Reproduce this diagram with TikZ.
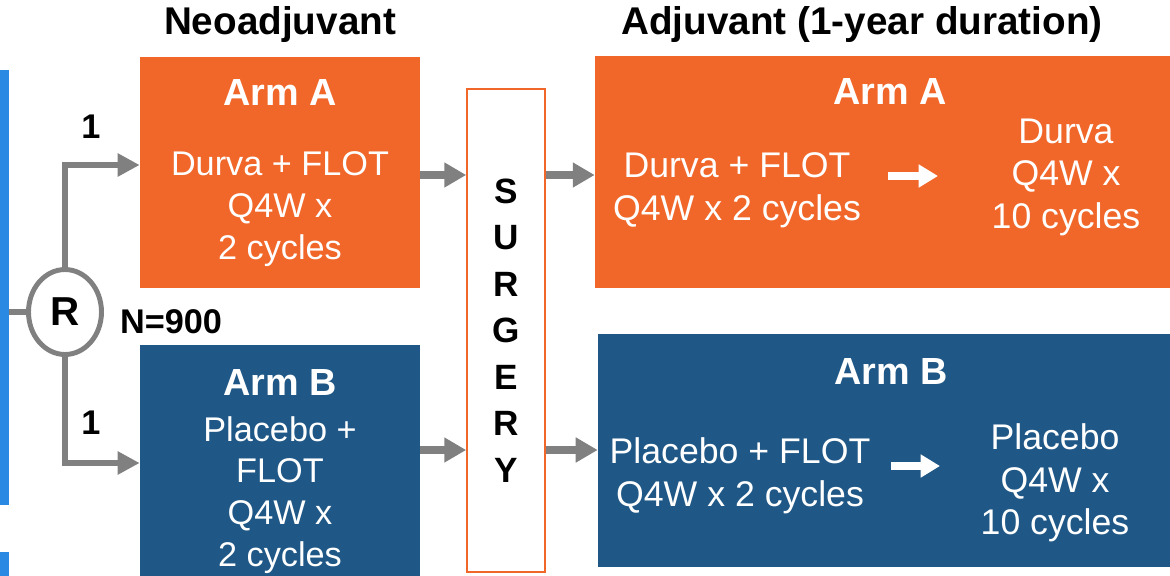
\documentclass[tikz,border=0pt]{standalone}
\usepackage{fontspec}
\setmainfont{Liberation Sans}
\usetikzlibrary{arrows.meta,shapes.geometric}
\definecolor{armorange}{RGB}{241,102,41}
\definecolor{armblue}{RGB}{31,87,134}
\definecolor{barblue}{RGB}{42,137,226}
\definecolor{linkgray}{RGB}{128,128,128}

\begin{document}
\begin{tikzpicture}[x=0.02cm, y=-0.02cm,
	title/.style={font=\bfseries\fontsize{22}{26}\selectfont},
	armtitle/.style={text=white, font=\bfseries\fontsize{21.5}{26}\selectfont},
	armtext/.style={text=white, align=center, font=\fontsize{19.5}{23.8}\selectfont},
	adjtext/.style={text=white, align=center, font=\fontsize{20.3}{24.2}\selectfont},
	marker/.style={font=\bfseries\fontsize{19.5}{23}\selectfont},
	link/.style={draw=linkgray, line width=3.4pt, -{Triangle[length=12.5pt, width=12.5pt]}},
	flow/.style={draw=linkgray, line width=4.5pt, -{Triangle[length=12.5pt, width=13.5pt]}},
	whiteflow/.style={draw=white, line width=5pt, -{Triangle[length=11pt, width=12.5pt]}}]
	\useasboundingbox (0,0) rectangle (1170,575);

	% column titles
	\node (neotitle) at (280,25) [title] {Neoadjuvant};
	\node (adjtitle) at (862,25) [title] {Adjuvant (1-year duration)};

	% left bar and randomisation
	\node (bar) at (4.5,287.5) [rectangle, fill=barblue, minimum width=0.18cm, minimum height=8.7cm, inner sep=0pt] {};
	\node (barlow) at (4.5,566) [rectangle, fill=barblue, minimum width=0.18cm, minimum height=0.56cm, inner sep=0pt] {};
	\node (circR) at (65,312) [ellipse, draw=linkgray, line width=2.8pt, fill=white, minimum width=1.46cm, minimum height=1.7cm, inner sep=0pt, font=\bfseries\fontsize{23}{26}\selectfont] {R};
	\node (ratioA) at (91,127) [marker] {1};
	\node (ratioB) at (91,423) [marker] {1};
	\node (total) at (171,322) [marker] {N=900};

	% neoadjuvant boxes
	\node (neoA) at (280,172.5) [rectangle, fill=armorange, minimum width=5.6cm, minimum height=4.62cm, inner sep=0pt] {};
	\node (neoB) at (280,462.5) [rectangle, fill=armblue, minimum width=5.6cm, minimum height=4.7cm, inner sep=0pt] {};
	\node (neoAhead) at (280,93) [armtitle] {Arm A};
	\node (neoAtext) at (280,209) [armtext] {Durva + FLOT\\Q4W x\\2 cycles};
	\node (neoBhead) at (280,382) [armtitle] {Arm B};
	\node (neoBtext) at (280,495) [armtext] {Placebo +\\FLOT\\Q4W x\\2 cycles};

	% surgery
	\node (surgery) at (506,330.5) [rectangle, draw=armorange, line width=0.9pt, fill=white, minimum width=1.56cm, minimum height=9.66cm, align=center, font=\bfseries\fontsize{20}{26.5}\selectfont] {S\\U\\R\\G\\E\\R\\Y};

	% adjuvant boxes
	\node (adjA) at (882.5,172) [rectangle, fill=armorange, minimum width=11.5cm, minimum height=4.64cm, inner sep=0pt] {};
	\node (adjB) at (884,450.5) [rectangle, fill=armblue, minimum width=11.44cm, minimum height=4.66cm, inner sep=0pt] {};
	\node (adjAhead) at (890,92) [armtitle] {Arm A};
	\node (adjAfirst) at (737,190) [adjtext] {Durva + FLOT\\Q4W x 2 cycles};
	\node (adjAthen) at (1066,177) [adjtext] {Durva\\Q4W x\\10 cycles};
	\node (adjBhead) at (891,371) [armtitle] {Arm B};
	\node (adjBfirst) at (740,476) [adjtext] {Placebo + FLOT\\Q4W x 2 cycles};
	\node (adjBthen) at (1055,483) [adjtext] {Placebo\\Q4W x\\10 cycles};

	% rows for the connectors
	\coordinate (upper) at (0,165);
	\coordinate (lower) at (0,463);
	\coordinate (toprow) at (0,175);
	\coordinate (lowrow) at (0,450);
	\coordinate (stepA) at (888,176);
	\coordinate (stepB) at (891,466);

	\draw[draw=linkgray, line width=3.4pt] (bar.east |- circR) -- (circR.west);
	\draw[link] (circR.north) |- (neoA.west |- upper);
	\draw[link] (circR.south) |- (neoB.west |- lower);
	\draw[flow] (neoA.east |- toprow) -- (surgery.west |- toprow);
	\draw[flow] (neoB.east |- lowrow) -- (surgery.west |- lowrow);
	\draw[flow] (surgery.east |- toprow) -- (adjA.west |- toprow);
	\draw[flow] (surgery.east |- lowrow) -- (adjB.west |- lowrow);
	\draw[whiteflow] (stepA) -- ++(50,0);
	\draw[whiteflow] (stepB) -- ++(49,0);
\end{tikzpicture}
\end{document}
